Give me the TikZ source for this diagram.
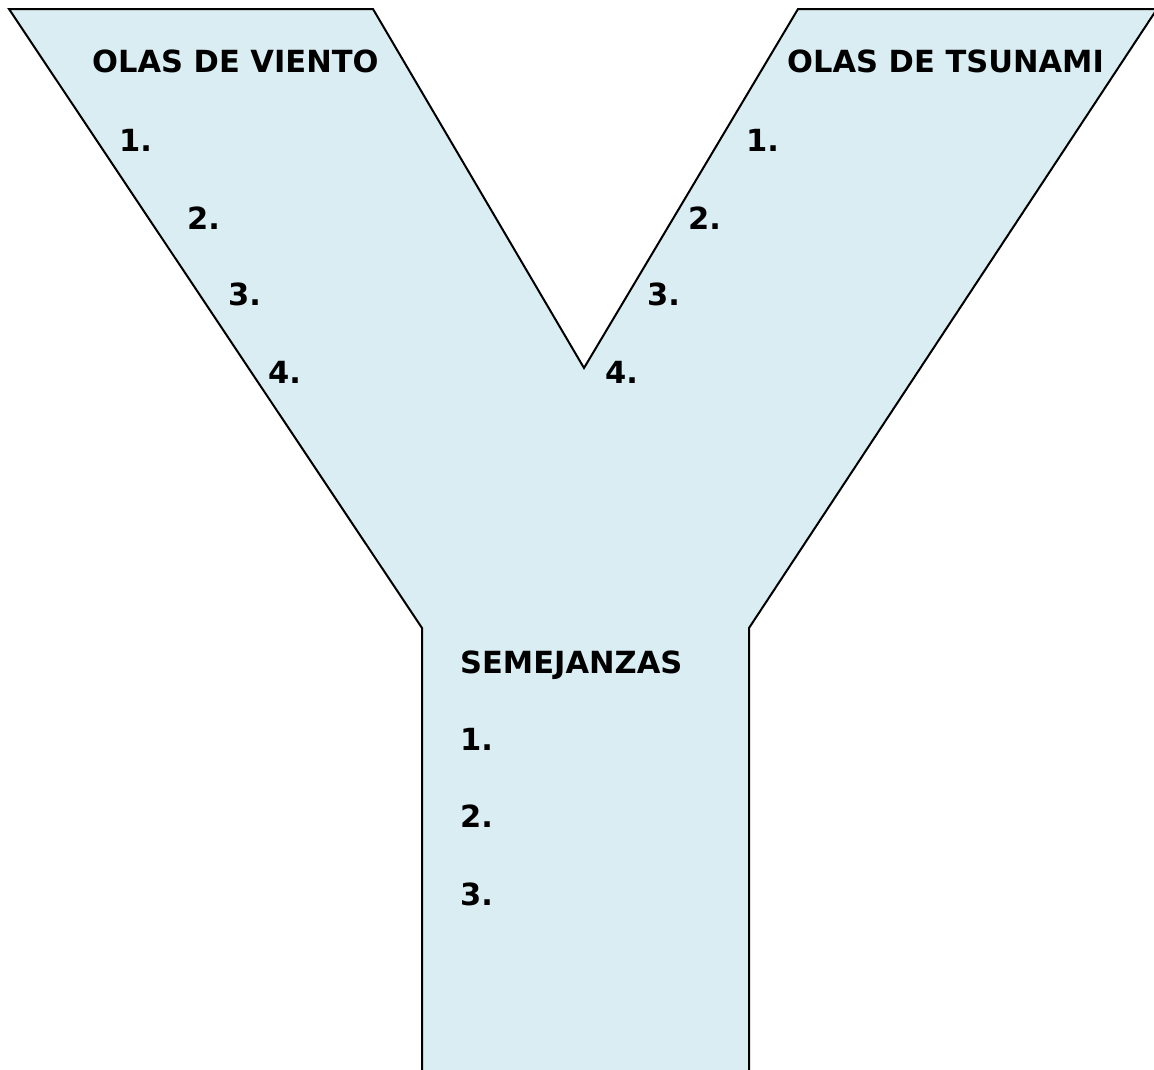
\documentclass[tikz,border=0pt]{standalone}
\usepackage{fontspec}
\setmainfont{DejaVu Sans}
\definecolor{yfill}{RGB}{218,237,243}
\begin{document}
\begin{tikzpicture}[x=1pt,y=-1pt,
  lbl/.style={anchor=base west,inner sep=0pt,font=\fontsize{30.5}{36}\selectfont\bfseries}]
\useasboundingbox (0,0) rectangle (1154,1069);
\clip (0,0) rectangle (1154,1069);
\coordinate (tlo) at (9,9);
\coordinate (tli) at (373,9);
\coordinate (notch) at (584,368);
\coordinate (tri) at (798,9);
\coordinate (tro) at (1157,9);
\coordinate (rs) at (749,628);
\coordinate (rb) at (749,1080);
\coordinate (lb) at (422,1080);
\coordinate (ls) at (422,628);
\fill[yfill] (lb) -- (ls) -- (tlo) -- (tli) -- (notch) -- (tri) -- (tro) -- (rs) -- (rb) -- cycle;
\draw[line width=2pt,line join=miter] (lb) -- (ls) -- (tlo) -- (tli) -- (notch) -- (tri) -- (tro) -- (rs) -- (rb);
\node[lbl] (hv) at (92,72) {OLAS DE VIENTO};
\node[lbl] (ht) at (787,72) {OLAS DE TSUNAMI};
\node[lbl] (hs) at (460,673) {SEMEJANZAS};
\node[lbl] (v1) at (119,151) {1.};
\node[lbl] (v2) at (187,229) {2.};
\node[lbl] (v3) at (228,305) {3.};
\node[lbl] (v4) at (268,383) {4.};
\node[lbl] (t1) at (746,151) {1.};
\node[lbl] (t2) at (688,229) {2.};
\node[lbl] (t3) at (647,305) {3.};
\node[lbl] (t4) at (605,383) {4.};
\node[lbl] (s1) at (460,750) {1.};
\node[lbl] (s2) at (460,827) {2.};
\node[lbl] (s3) at (460,905) {3.};
\end{tikzpicture}
\end{document}
